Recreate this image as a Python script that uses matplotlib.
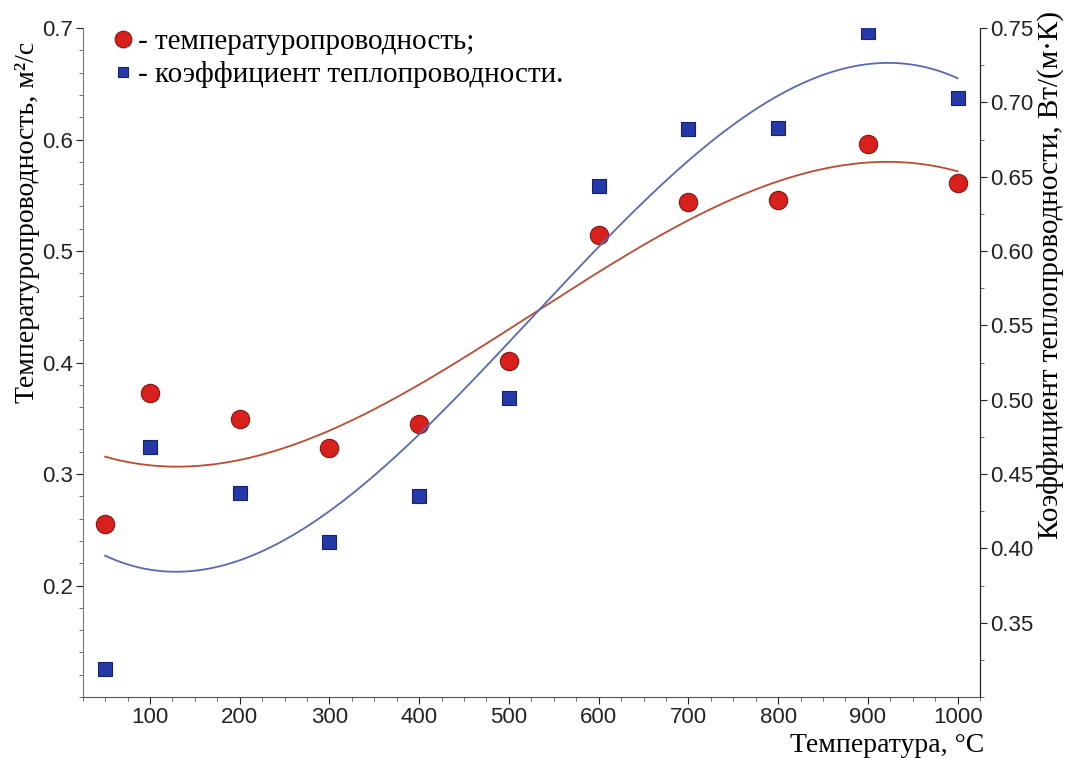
import matplotlib
matplotlib.use("Agg")
import matplotlib.pyplot as plt
from matplotlib.lines import Line2D
from matplotlib.ticker import MultipleLocator, FormatStrFormatter
import numpy as np

# measured points
temperature = [50, 100, 200, 300, 400, 500, 600, 700, 800, 900, 1000]
diffusivity = [0.255, 0.373, 0.349, 0.323, 0.345, 0.401, 0.514, 0.544, 0.546, 0.596, 0.561]
conductivity = [0.319, 0.468, 0.437, 0.404, 0.435, 0.501, 0.644, 0.682, 0.683, 0.747, 0.703]

red = "#d8201c"
red_edge = "#8a1410"
blue = "#2438a8"
blue_edge = "#16226a"
red_line = "#c04a30"
blue_line = "#5868b8"

serif = ["Liberation Serif", "DejaVu Serif"]
plt.rcParams["font.family"] = ["Liberation Sans", "DejaVu Sans"]

fig = plt.figure(figsize=(10.69, 7.58), dpi=100)
W, H = 1069, 758
ax = fig.add_axes([82.7 / W, 1 - 697 / H, (980 - 82.7) / W, (697 - 28) / H])
ax2 = ax.twinx()

# cubic trend lines through each series
t_fit = np.linspace(temperature[0], temperature[-1], 300)
p_dif = np.polyfit(temperature, diffusivity, 3)
p_con = np.polyfit(temperature, conductivity, 3)
ax.plot(t_fit, np.polyval(p_dif, t_fit), color=red_line, lw=1.3, zorder=2)
ax2.plot(t_fit, np.polyval(p_con, t_fit), color=blue_line, lw=1.3, zorder=2)

ax.scatter(temperature, diffusivity, s=175, marker="o", color=red,
           edgecolor=red_edge, linewidth=0.8, zorder=4)
ax2.scatter(temperature, conductivity, s=110, marker="s", color=blue,
            edgecolor=blue_edge, linewidth=0.8, zorder=4)

ax.set_xlim(25, 1025)
ax.set_ylim(0.1, 0.7)
ax2.set_ylim(0.30, 0.75)

ax.set_xticks(range(100, 1001, 100))
ax.xaxis.set_minor_locator(MultipleLocator(25))
ax.set_yticks([0.2, 0.3, 0.4, 0.5, 0.6, 0.7])
ax.yaxis.set_minor_locator(MultipleLocator(0.02))
ax.yaxis.set_major_formatter(FormatStrFormatter("%.1f"))
ax2.set_yticks([0.35, 0.40, 0.45, 0.50, 0.55, 0.60, 0.65, 0.70, 0.75])
ax2.yaxis.set_minor_locator(MultipleLocator(0.025))
ax2.yaxis.set_major_formatter(FormatStrFormatter("%.2f"))

for a in (ax, ax2):
    a.spines["top"].set_visible(False)
    a.tick_params(which="major", direction="out", length=5, width=0.8,
                  labelsize=16, colors="#222222", pad=2)
    a.tick_params(which="minor", direction="out", length=3, width=0.6,
                  color="#555555")
ax.spines["left"].set_color("#777777")
ax.spines["bottom"].set_color("#555555")
ax2.spines["right"].set_color("#222222")
ax2.spines["left"].set_visible(False)
ax2.spines["bottom"].set_visible(False)

# axis titles
fig.text(984 / W, 1 - 745 / H, "Температура, °C", family=serif, fontsize=20,
         ha="right", va="center")
fig.text(28 / W, 1 - 222 / H, "Температуропроводность, м²/с", family=serif,
         fontsize=20, rotation=90, ha="center", va="center")
fig.text(1050 / W, 1 - 275 / H, "Коэффициент теплопроводности, Вт/(м·К)",
         family=serif, fontsize=21, rotation=90, ha="center", va="center")

handles = [
    Line2D([], [], ls="none", marker="o", markersize=12, color=red,
           markeredgecolor=red_edge, markeredgewidth=0.8),
    Line2D([], [], ls="none", marker="s", markersize=7, color=blue,
           markeredgecolor=blue_edge, markeredgewidth=0.8),
]
labels = ["- температуропроводность;", "- коэффициент теплопроводности."]
ax.legend(handles, labels, loc="upper left", bbox_to_anchor=(111.5 / W, 1 - 29 / H),
          bbox_transform=fig.transFigure, frameon=False, prop={"family": serif, "size": 21},
          handlelength=0.8, handletextpad=0.1, labelspacing=0.2, borderpad=0,
          borderaxespad=0)

fig.savefig("out.png", dpi=100)
